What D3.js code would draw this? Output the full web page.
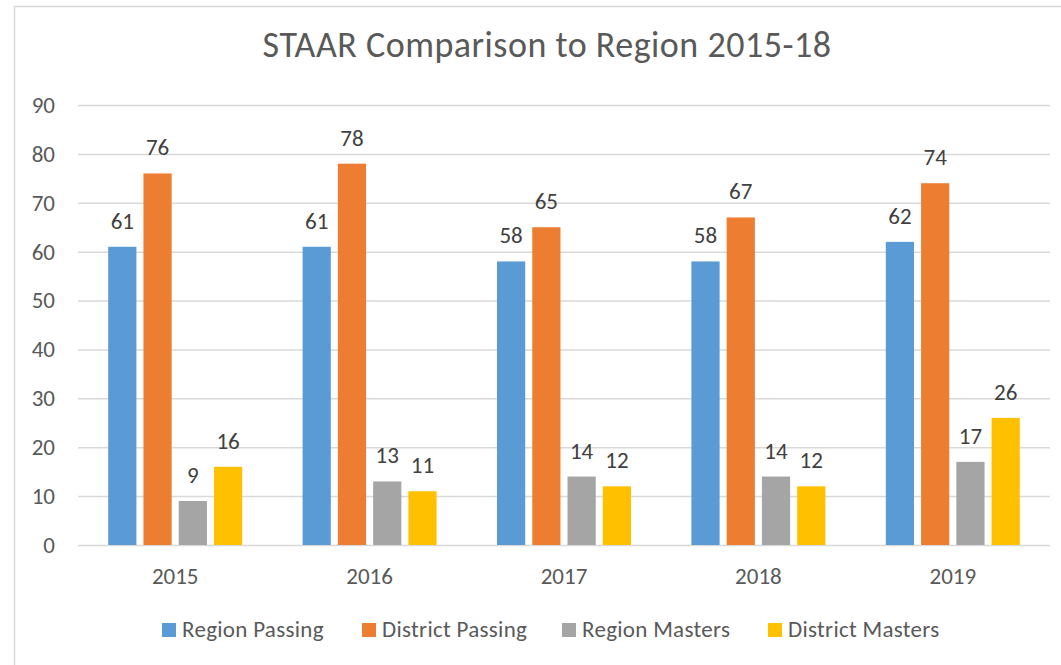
<!DOCTYPE html>
<html>
<head>
<meta charset="utf-8">
<script src="https://cdn.jsdelivr.net/npm/d3@7"></script>
<style>
  body { margin: 0; background: #fff; }
  svg { display: block; font-family: Carlito, Calibri, "Open Sans", sans-serif; }
</style>
</head>
<body>
<svg id="chart" width="1061" height="665"></svg>
<script>
// chart data
const years = ['2015', '2016', '2017', '2018', '2019'];
const seriesNames = ['Region Passing', 'District Passing', 'Region Masters', 'District Masters'];
const regionPassing = [61, 61, 58, 58, 62];
const districtPassing = [76, 78, 65, 67, 74];
const regionMasters = [9, 13, 14, 14, 17];
const districtMasters = [16, 11, 12, 12, 26];
const yTicks = [0, 10, 20, 30, 40, 50, 60, 70, 80, 90];
const colors = ['#5B9BD5', '#ED7D31', '#A5A5A5', '#FFC000'];

const seriesValues = [regionPassing, districtPassing, regionMasters, districtMasters];
const rows = years.map((y, i) => ({
  year: y,
  values: seriesNames.map((s, k) => ({ key: s, value: seriesValues[k][i], k }))
}));

const FONT = 'Carlito, Calibri, "Open Sans", sans-serif';
const LABEL = '23px';
const svg = d3.select('#chart');
const margin = { left: 78, right: 11 };
const W = 1061;

// outer chart border
svg.append('rect')
  .attr('x', 14.5).attr('y', 6.5)
  .attr('width', 1100).attr('height', 700)
  .attr('fill', '#fff')
  .attr('stroke', '#D9D9D9').attr('stroke-width', 1.5);

svg.append('text')
  .attr('x', 547).attr('y', 57)
  .attr('text-anchor', 'middle')
  .attr('fill', '#595959')
  .style('font-size', '36px')
  .style('letter-spacing', '0.5px')
  .text('STAAR Comparison to Region 2015-18');

const x = d3.scaleBand()
  .domain(years)
  .range([margin.left, W - margin.right]);

const xInner = d3.scaleBand()
  .domain(seriesNames)
  .range([0, 134])
  .paddingInner(0.2);

const y = d3.scaleLinear()
  .domain([0, 90])
  .range([545, 105]);

// gridlines
svg.append('g')
  .selectAll('line')
  .data(yTicks)
  .join('line')
  .attr('x1', margin.left).attr('x2', W - margin.right)
  .attr('y1', d => y(d) + 0.5).attr('y2', d => y(d) + 0.5)
  .attr('stroke', '#D9D9D9').attr('stroke-width', 1.5);

// y axis labels
const yAxis = svg.append('g')
  .attr('transform', `translate(${margin.left},0)`)
  .call(d3.axisLeft(y).tickValues(yTicks).tickSize(0).tickPadding(23));
yAxis.select('.domain').remove();
yAxis.selectAll('text')
  .attr('fill', '#595959')
  .style('font-size', LABEL)
  .style('font-family', FONT);

// x axis labels
const xAxis = svg.append('g')
  .attr('transform', `translate(0,${y(0)})`)
  .call(d3.axisBottom(x).tickSize(0).tickPadding(23));
xAxis.select('.domain').remove();
xAxis.selectAll('text')
  .attr('fill', '#595959')
  .style('font-size', LABEL)
  .style('font-family', FONT);

// bars
const groups = svg.append('g')
  .selectAll('g')
  .data(rows)
  .join('g')
  .attr('transform', d => `translate(${x(d.year) + x.bandwidth() / 2 - 67},0)`);

groups.selectAll('rect')
  .data(d => d.values)
  .join('rect')
  .attr('x', d => xInner(d.key))
  .attr('y', d => y(d.value))
  .attr('width', xInner.bandwidth())
  .attr('height', d => y(0) - y(d.value))
  .attr('fill', d => colors[d.k]);

groups.selectAll('text')
  .data(d => d.values)
  .join('text')
  .attr('x', d => xInner(d.key) + xInner.bandwidth() / 2)
  .attr('y', d => y(d.value) - 18)
  .attr('text-anchor', 'middle')
  .attr('fill', '#404040')
  .style('font-size', LABEL)
  .text(d => d.value);

// legend
const legendX = [162, 362, 562, 768];
const legend = svg.append('g')
  .selectAll('g')
  .data(seriesNames)
  .join('g')
  .attr('transform', (d, i) => `translate(${legendX[i]},623)`);

legend.append('rect')
  .attr('width', 14).attr('height', 14)
  .attr('fill', (d, i) => colors[i]);

legend.append('text')
  .attr('x', 20).attr('y', 14)
  .attr('fill', '#595959')
  .style('font-size', LABEL)
  .style('letter-spacing', '0.3px')
  .text(d => d);
</script>
</body>
</html>
